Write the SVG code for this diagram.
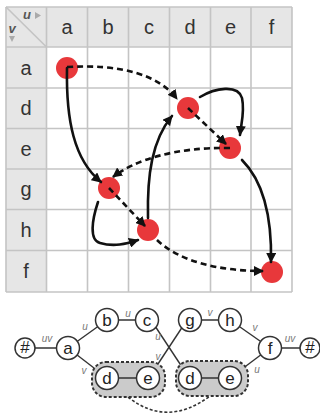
<svg xmlns="http://www.w3.org/2000/svg" width="320" height="418" viewBox="0 0 320 418">
<style>
.hdr{fill:#e6e6e6}
.gl{stroke:#c4c4c4;stroke-width:1.6;fill:none}
.lab{font-family:"Liberation Sans",Arial,sans-serif;font-size:20px;fill:#333;text-anchor:middle}
.dot{fill:#e8383b}
.sol{fill:none;stroke:#111;stroke-width:2.6;stroke-linecap:round}
.dsh{fill:none;stroke:#111;stroke-width:2.6;stroke-dasharray:6 4}
.te{stroke:#333;stroke-width:1.4;fill:none}
.nd{fill:#fff;stroke:#333;stroke-width:1.5}
.nt{font-family:"Liberation Sans",Arial,sans-serif;font-size:17px;fill:#222;text-anchor:middle}
.el{font-family:"Liberation Sans",Arial,sans-serif;font-size:10px;font-style:italic;fill:#777;text-anchor:middle}
.box{fill:#cbcbcb;stroke:#333;stroke-width:2;stroke-dasharray:3 2}
</style>
<defs>
<marker id="ah" markerUnits="userSpaceOnUse" markerWidth="10" markerHeight="10" viewBox="0 0 10 10" refX="9" refY="5" orient="auto">
<path d="M0,0 L10,5 L0,10 z" fill="#111"/>
</marker>
</defs>
<g id="matrix">
<rect x="6" y="7" width="286" height="285" fill="#fff"/>
<rect class="hdr" x="6" y="7" width="286" height="40"/>
<rect class="hdr" x="6" y="7" width="40.5" height="285"/>
<g class="gl">
<line x1="6" y1="7" x2="6" y2="292"/>
<line x1="46.5" y1="7" x2="46.5" y2="292"/>
<line x1="87.5" y1="7" x2="87.5" y2="292"/>
<line x1="128.5" y1="7" x2="128.5" y2="292"/>
<line x1="169.5" y1="7" x2="169.5" y2="292"/>
<line x1="210.5" y1="7" x2="210.5" y2="292"/>
<line x1="251" y1="7" x2="251" y2="292"/>
<line x1="292" y1="7" x2="292" y2="292"/>
<line x1="6" y1="7" x2="292" y2="7"/>
<line x1="6" y1="47" x2="292" y2="47"/>
<line x1="6" y1="88" x2="292" y2="88"/>
<line x1="6" y1="128.5" x2="292" y2="128.5"/>
<line x1="6" y1="169" x2="292" y2="169"/>
<line x1="6" y1="209.5" x2="292" y2="209.5"/>
<line x1="6" y1="250.5" x2="292" y2="250.5"/>
<line x1="6" y1="292" x2="292" y2="292"/>
<line x1="6" y1="7" x2="46.5" y2="47"/>
</g>
<text x="27" y="19" font-family="Liberation Sans,Arial,sans-serif" font-size="13" font-weight="bold" font-style="italic" fill="#555" text-anchor="middle">u</text>
<path d="M35,12 L41,15.5 L35,19 z" fill="#aaa"/>
<text x="12" y="33" font-family="Liberation Sans,Arial,sans-serif" font-size="13" font-weight="bold" font-style="italic" fill="#555" text-anchor="middle">v</text>
<path d="M9,36 L15,36 L12,42 z" fill="#aaa"/>
<text class="lab" x="67" y="34">a</text>
<text class="lab" x="108" y="34">b</text>
<text class="lab" x="149" y="34">c</text>
<text class="lab" x="190" y="34">d</text>
<text class="lab" x="230.5" y="34">e</text>
<text class="lab" x="271.5" y="34">f</text>
<text class="lab" x="26" y="74.5">a</text>
<text class="lab" x="26" y="115">d</text>
<text class="lab" x="26" y="155.5">e</text>
<text class="lab" x="26" y="196">g</text>
<text class="lab" x="26" y="237">h</text>
<text class="lab" x="26" y="278">f</text>
</g>
<g id="dot-aa"><circle class="dot" cx="67" cy="68" r="11"/></g>
<g id="dot-dd"><circle class="dot" cx="188" cy="108" r="11"/></g>
<g id="dot-ee"><circle class="dot" cx="230" cy="148" r="11"/></g>
<g id="dot-gb"><circle class="dot" cx="109" cy="188" r="11"/></g>
<g id="dot-hc"><circle class="dot" cx="148" cy="230" r="11"/></g>
<g id="dot-ff"><circle class="dot" cx="272" cy="272" r="11"/></g>
<g id="connectors">
<path class="dsh" d="M67,67 C120,64 158,74 177,99" marker-end="url(#ah)"/>
<path class="dsh" d="M188,108 L226,144" marker-end="url(#ah)"/>
<path class="sol" d="M200,97 C215,88 238,84 242,98 C245,112 241,124 240,135" marker-end="url(#ah)"/>
<path class="dsh" d="M230,148 C175,147 135,160 113,177" marker-end="url(#ah)"/>
<path class="sol" d="M67,68 C66,120 74,160 101,182" marker-end="url(#ah)"/>
<path class="dsh" d="M109,188 L145,226" marker-end="url(#ah)"/>
<path class="sol" d="M98,202 C92,220 89,240 100,243 C114,247 126,244 138,240" marker-end="url(#ah)"/>
<path class="sol" d="M148,218 C147,175 152,140 172,116" marker-end="url(#ah)"/>
<path class="sol" d="M242,160 C262,180 272,215 271,262" marker-end="url(#ah)"/>
<path class="dsh" d="M157,240 C180,262 220,271 263,271" marker-end="url(#ah)"/>
</g>
<g id="tree-connectors">
<line class="te" x1="25" y1="348" x2="68" y2="348"/>
<line class="te" x1="68" y1="348" x2="107" y2="320"/>
<line class="te" x1="68" y1="348" x2="107" y2="378"/>
<line class="te" x1="107" y1="320" x2="147" y2="320"/>
<line class="te" x1="155" y1="326" x2="184" y2="370"/>
<line class="te" x1="183" y1="326" x2="154" y2="370"/>
<line class="te" x1="190" y1="320" x2="230" y2="320"/>
<line class="te" x1="230" y1="320" x2="270" y2="348"/>
<line class="te" x1="270" y1="348" x2="230" y2="378"/>
<line class="te" x1="270" y1="348" x2="310" y2="348"/>
<path d="M128,397 Q167,428 210,396" fill="none" stroke="#333" stroke-width="1.6" stroke-dasharray="3 2"/>
<text class="el" x="47" y="342">uv</text>
<text class="el" x="85" y="330">u</text>
<text class="el" x="84" y="374">v</text>
<text class="el" x="128" y="317">u</text>
<text class="el" x="158" y="340">u</text>
<text class="el" x="158" y="360">v</text>
<text class="el" x="210" y="316">v</text>
<text class="el" x="255" y="331">v</text>
<text class="el" x="257" y="373">u</text>
<text class="el" x="290" y="342">uv</text>
</g>
<g id="group-de-1">
<rect class="box" x="92" y="362" width="73" height="35" rx="14"/>
<line class="te" x1="107" y1="378" x2="148" y2="378"/>
</g>
<g id="group-de-2">
<rect class="box" x="176" y="361" width="72" height="35" rx="14"/>
<line class="te" x1="190" y1="378" x2="230" y2="378"/>
</g>
<g id="n-hash1"><circle class="nd" cx="25" cy="348" r="10"/><text class="nt" x="25" y="353" font-size="13">#</text></g>
<g id="n-a"><circle class="nd" cx="68" cy="348" r="11.5"/><text class="nt" x="68" y="354">a</text></g>
<g id="n-b"><circle class="nd" cx="107" cy="320" r="11.5"/><text class="nt" x="107" y="326">b</text></g>
<g id="n-c"><circle class="nd" cx="147" cy="320" r="11.5"/><text class="nt" x="147" y="326">c</text></g>
<g id="n-d1"><circle class="nd" cx="107" cy="378" r="11.5"/><text class="nt" x="107" y="384">d</text></g>
<g id="n-e1"><circle class="nd" cx="148" cy="378" r="11.5"/><text class="nt" x="148" y="384">e</text></g>
<g id="n-g"><circle class="nd" cx="190" cy="320" r="11.5"/><text class="nt" x="190" y="326">g</text></g>
<g id="n-h"><circle class="nd" cx="230" cy="320" r="11.5"/><text class="nt" x="230" y="326">h</text></g>
<g id="n-d2"><circle class="nd" cx="190" cy="378" r="11.5"/><text class="nt" x="190" y="384">d</text></g>
<g id="n-e2"><circle class="nd" cx="230" cy="378" r="11.5"/><text class="nt" x="230" y="384">e</text></g>
<g id="n-f"><circle class="nd" cx="270" cy="348" r="11.5"/><text class="nt" x="270" y="354">f</text></g>
<g id="n-hash2"><circle class="nd" cx="310" cy="348" r="10"/><text class="nt" x="310" y="353" font-size="13">#</text></g>
</svg>
